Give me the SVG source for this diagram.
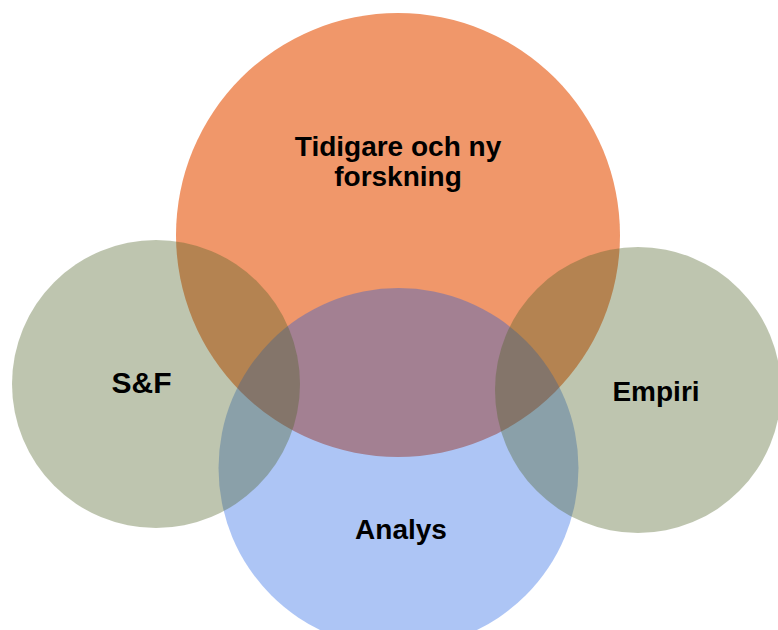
<svg xmlns="http://www.w3.org/2000/svg" width="778" height="630" viewBox="0 0 778 630">
<style>
text{font-family:"Liberation Sans",Arial,sans-serif;font-weight:bold;font-size:28px;fill:#000;text-anchor:middle}
.blue{fill:#0E54E1;fill-opacity:0.34}
.green{fill:#4F6226;fill-opacity:0.37}
</style>
<rect width="778" height="630" fill="#ffffff"/>
<g id="forskning">
<circle cx="398" cy="235" r="222" fill="#F0976A"/>
</g>
<g id="analys">
<circle class="blue" cx="398.5" cy="468" r="180"/>
</g>
<g id="sf">
<circle class="green" cx="156" cy="384" r="144"/>
</g>
<g id="empiri">
<circle class="green" cx="638" cy="390" r="143"/>
</g>
<g id="labels">
<text x="398" y="156">Tidigare och ny</text>
<text x="398" y="186">forskning</text>
<text x="141.5" y="393" style="font-size:30px">S&amp;F</text>
<text x="656" y="401">Empiri</text>
<text x="401" y="539">Analys</text>
</g>
<g id="connectors"/>
</svg>
